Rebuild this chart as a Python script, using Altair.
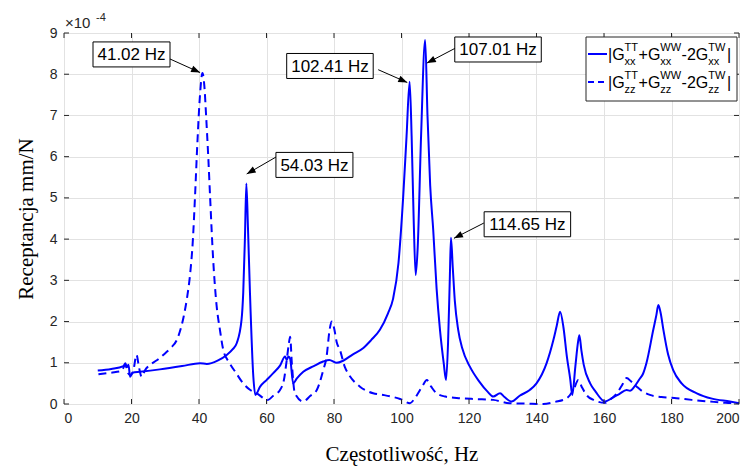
import math
import altair as alt
import pandas as pd

# ---------------- data ----------------
freq_xx = [10.0, 14.0, 17.6, 18.2, 18.6, 19.1, 19.6, 20.3, 22.5, 28.4, 35.0, 40.3, 42.3, 45.5,
           48.2, 50.0, 51.2, 52.6, 53.1, 53.6, 54.03, 54.5, 55.1, 56.1, 56.7, 58.1, 60.0, 62.0,
           64.0, 65.5, 66.0, 66.5, 67.0, 67.9, 69.0, 70.9, 74.0, 76.8, 78.6, 80.8, 82.7, 85.5,
           88.7, 91.0, 93.6, 96.0, 97.5, 99.1, 100.5, 101.5, 102.41, 103.0, 103.6, 104.2, 104.8,
           105.8, 107.01, 107.7, 108.5, 109.4, 110.4, 111.4, 112.5, 113.2, 113.8, 114.3, 114.65,
           115.2, 115.8, 116.8, 118.0, 120.3, 123.0, 125.5, 127.2, 129.2, 130.5, 132.6, 135.0,
           138.0, 140.0, 143.0, 145.0, 146.0, 147.0, 148.0, 149.0, 150.0, 150.6, 151.5, 152.3,
           152.7, 153.3, 154.0, 155.9, 157.5, 160.3, 162.5, 164.5, 166.7, 167.7, 169.0, 170.5,
           171.6, 172.6, 174.6, 175.5, 176.1, 176.8, 177.6, 179.0, 180.5, 183.0, 187.5, 192.0,
           197.3, 200.0]
rec_xx = [0.81, 0.85, 0.92, 0.99, 0.89, 0.95, 0.66, 0.76, 0.78, 0.84, 0.92, 0.99, 0.97, 1.05,
          1.19, 1.33, 1.48, 2.04, 2.69, 4.0, 5.35, 4.3, 2.7, 0.66, 0.22, 0.42, 0.58, 0.75,
          0.93, 1.15, 1.07, 1.15, 1.1, 0.5, 0.62, 0.78, 0.92, 1.03, 1.07, 1.0, 1.05, 1.2,
          1.36, 1.55, 1.8, 2.2, 2.55, 3.42, 5.03, 6.5, 7.82, 6.5, 4.5, 3.13, 3.8,
          6.5, 8.83, 7.0, 5.3, 4.22, 2.8, 1.8, 1.0, 0.58, 1.5, 3.0, 4.03,
          3.3, 2.5, 1.8, 1.35, 0.9, 0.55, 0.3, 0.18, 0.26, 0.17, 0.06, 0.2,
          0.34, 0.5, 0.99, 1.55, 1.9, 2.24, 1.85, 1.15, 0.6, 0.22, 0.9, 1.5,
          1.67, 1.3, 0.95, 0.5, 0.3, 0.06, 0.15, 0.24, 0.34, 0.32, 0.42, 0.6,
          0.74, 1.0, 1.8, 2.15, 2.4, 2.2, 1.8, 1.2, 0.82, 0.5, 0.26, 0.13,
          0.06, 0.02]

freq_zz = [10.2, 14.0, 17.0, 18.2, 18.8, 19.6, 20.5, 21.5, 22.2, 23.0, 24.0, 25.5, 27.5, 29.4,
           31.5, 33.4, 35.4, 36.5, 37.3, 38.2, 38.8, 39.5, 40.3, 41.02, 41.6, 42.1, 42.8, 43.3,
           44.2, 45.2, 46.2, 47.2, 49.0, 51.0, 53.1, 55.0, 57.1, 60.4, 62.0, 64.0, 65.2, 66.0,
           66.6, 67.0, 67.5, 68.4, 70.9, 73.0, 74.9, 76.8, 77.8, 78.7, 79.3, 80.0, 80.8, 81.8,
           83.2, 84.2, 87.7, 91.6, 94.6, 99.6, 102.5, 103.8, 104.9, 106.3, 107.5, 108.8, 110.4,
           113.0, 117.3, 122.0, 127.2, 132.0, 137.0, 142.0, 145.5, 149.0, 151.0, 152.4, 153.5,
           155.0, 156.9, 160.3, 162.0, 163.8, 165.3, 166.7, 168.0, 169.7, 171.5, 173.6, 177.0,
           181.5, 186.0, 191.4, 196.0, 200.0]
rec_zz = [0.72, 0.76, 0.8, 0.95, 0.78, 0.7, 0.8, 1.19, 0.9, 0.66, 0.82, 0.95, 1.06, 1.19,
          1.35, 1.55, 2.1, 2.6, 3.1, 4.0, 5.0, 6.3, 7.5, 8.03, 7.7, 7.0, 5.9, 5.0,
          3.5, 2.4, 1.8, 1.31, 1.0, 0.75, 0.5, 0.35, 0.26, 0.1, 0.2, 0.34, 0.6, 1.07,
          1.45, 1.63, 1.0, 0.26, 0.06, 0.2, 0.34, 0.82, 1.15, 1.8, 2.0, 1.85, 1.5, 1.3,
          0.9, 0.74, 0.42, 0.26, 0.22, 0.12, 0.02, 0.12, 0.26, 0.45, 0.58, 0.42, 0.26,
          0.18, 0.14, 0.12, 0.1, 0.02, 0.01, 0.0, 0.05, 0.14, 0.35, 0.58, 0.4,
          0.2, 0.1, 0.03, 0.12, 0.26, 0.45, 0.63, 0.55, 0.42, 0.3, 0.22, 0.17,
          0.14, 0.1, 0.06, 0.03, 0.02]

peak_freqs = [41.02, 54.03, 102.41, 107.01, 114.65]
peak_vals = [8.03, 5.35, 7.82, 8.83, 4.03]

x_ticks = list(range(0, 201, 20))
y_ticks = list(range(0, 10))

# ---------------- layout (separate from values) ----------------
W, H = 675, 371
X_MAX, Y_MAX = 200, 9
PX = W / X_MAX
PY = H / Y_MAX

box_cx = [20.0, 74.2, 78.8, 128.6, 137.3]
box_cy = [8.48, 5.80, 8.20, 8.60, 4.36]
arrow_start_f = [31.4, 63.0, 93.1, 115.9, 124.4]
arrow_start_y = [8.37, 6.0, 8.11, 8.63, 4.39]
arrow_tip_df = [-0.7, 0.1, -0.7, 0.5, 0.9]
arrow_tip_dy = [0.01, 0.23, -0.02, -0.56, -0.01]

BLUE = "#0000ff"
AX = "#262626"

x_scale = alt.Scale(domain=[0, X_MAX], nice=False, zero=False)
y_scale = alt.Scale(domain=[0, Y_MAX], nice=False, zero=False)

df_xx = pd.DataFrame({"f": freq_xx, "r": rec_xx})
df_zz = pd.DataFrame({"f": freq_zz, "r": rec_zz})

x_axis = alt.Axis(values=x_ticks, grid=True, gridColor="#e2e2e2", ticks=False, domain=False,
                  labelFont="Liberation Sans", labelFontSize=14, labelColor=AX, labelPadding=7,
                  title="Częstotliwość, Hz", titleFont="Liberation Serif", titleFontSize=21,
                  titleFontWeight="normal", titleColor="black", titlePadding=18)
y_axis = alt.Axis(values=y_ticks, grid=True, gridColor="#e2e2e2", ticks=False, domain=False,
                  labelFont="Liberation Sans", labelFontSize=14, labelColor=AX, labelPadding=7,
                  title="Receptancja mm/N", titleFont="Liberation Serif", titleFontSize=21,
                  titleFontWeight="normal", titleColor="black", titlePadding=13)

line_xx = alt.Chart(df_xx).mark_line(color=BLUE, strokeWidth=2, interpolate="monotone").encode(
    x=alt.X("f:Q", scale=x_scale, axis=x_axis),
    y=alt.Y("r:Q", scale=y_scale, axis=y_axis),
)
line_zz = alt.Chart(df_zz).mark_line(color=BLUE, strokeWidth=2, strokeDash=[8, 5],
                                     interpolate="monotone").encode(
    x=alt.X("f:Q", scale=x_scale, axis=x_axis),
    y=alt.Y("r:Q", scale=y_scale, axis=y_axis),
)

# inward ticks on all four sides
xt = pd.DataFrame({"v": x_ticks})
yt = pd.DataFrame({"v": y_ticks})
tick_layers = [
    alt.Chart(xt).mark_rule(color=AX).encode(x=alt.X("v:Q", scale=x_scale, axis=x_axis),
                                             y=alt.value(H), y2=alt.value(H - 5)),
    alt.Chart(xt).mark_rule(color=AX).encode(x=alt.X("v:Q", scale=x_scale, axis=x_axis),
                                             y=alt.value(0), y2=alt.value(5)),
    alt.Chart(yt).mark_rule(color=AX).encode(y=alt.Y("v:Q", scale=y_scale, axis=y_axis),
                                             x=alt.value(0), x2=alt.value(5)),
    alt.Chart(yt).mark_rule(color=AX).encode(y=alt.Y("v:Q", scale=y_scale, axis=y_axis),
                                             x=alt.value(W - 5), x2=alt.value(W)),
]

# annotations
labels = [f"{f:.2f} Hz" for f in peak_freqs]
rows = []
for i, lab in enumerate(labels):
    wpx = 9.5 * len(lab) + 1
    tf = peak_freqs[i] + arrow_tip_df[i]
    ty = peak_vals[i] + arrow_tip_dy[i]
    sf, sy = arrow_start_f[i], arrow_start_y[i]
    ang = math.degrees(math.atan2(-(ty - sy) * PY, (tf - sf) * PX)) % 360
    rows.append({
        "label": lab,
        "cx": box_cx[i], "cy": box_cy[i],
        "x1": box_cx[i] - wpx / 2 / PX, "x2": box_cx[i] + wpx / 2 / PX,
        "y1": box_cy[i] - 12.5 / PY, "y2": box_cy[i] + 12.5 / PY,
        "sf": sf, "sy": sy, "tf": tf, "ty": ty, "ang": ang,
    })
ann = pd.DataFrame(rows)

arrows = alt.Chart(ann).mark_rule(color="black", strokeWidth=1).encode(
    x=alt.X("sf:Q", scale=x_scale, axis=x_axis), y=alt.Y("sy:Q", scale=y_scale, axis=y_axis),
    x2="tf:Q", y2="ty:Q",
)
heads = alt.Chart(ann).mark_point(shape="M0,0L-2,-0.75L-2,0.75Z", filled=True, color="black",
                                  size=81, opacity=1, strokeWidth=0).encode(
    x=alt.X("tf:Q", scale=x_scale, axis=x_axis), y=alt.Y("ty:Q", scale=y_scale, axis=y_axis),
    angle=alt.Angle("ang:Q", scale=None),
)
boxes = alt.Chart(ann).mark_rect(fill="white", stroke="black", strokeWidth=1).encode(
    x=alt.X("x1:Q", scale=x_scale, axis=x_axis), x2="x2:Q",
    y=alt.Y("y1:Q", scale=y_scale, axis=y_axis), y2="y2:Q",
)
box_text = alt.Chart(ann).mark_text(font="Liberation Sans", fontSize=17, color="black",
                                    align="center", baseline="middle", dy=1).encode(
    x=alt.X("cx:Q", scale=x_scale, axis=x_axis), y=alt.Y("cy:Q", scale=y_scale, axis=y_axis),
    text="label:N",
)

# exponent label
one = pd.DataFrame({"a": [0]})
def ptext(txt, x, y, size, color=AX):
    return alt.Chart(one).mark_text(text=txt, font="Liberation Sans", fontSize=size, color=color,
                                    align="left", baseline="alphabetic").encode(
        x=alt.value(x), y=alt.value(y))

expo = [ptext("×10", 1, -5, 15), ptext("-4", 32, -12, 11)]

# legend
LX, LY = 522, 4
legend_layers = [
    alt.Chart(one).mark_rect(fill="white", stroke=AX, strokeWidth=1).encode(
        x=alt.value(LX), x2=alt.value(LX + 151), y=alt.value(LY), y2=alt.value(LY + 64)),
    alt.Chart(one).mark_rule(color=BLUE, strokeWidth=2).encode(
        x=alt.value(LX + 2), x2=alt.value(LX + 21), y=alt.value(LY + 17)),
    alt.Chart(one).mark_rule(color=BLUE, strokeWidth=2, strokeDash=[6, 4]).encode(
        x=alt.value(LX + 2), x2=alt.value(LX + 21), y=alt.value(LY + 45)),
]
# Arial/Liberation Sans advance widths (em)
adv = {"G": 0.778, "|": 0.26, "+": 0.584, "-": 0.333, "2": 0.556, "T": 0.611, "W": 0.944,
       "x": 0.5, "z": 0.5}
def tw(s, size):
    return sum(adv[c] for c in s) * size

MAIN, SCR = 16, 11
for row, sub in enumerate(["xx", "zz"]):
    base = LY + 23 + 28 * row
    xpos = LX + 22
    groups = [("|G", "TT"), ("+G", "WW"), ("-2G", "TW")]
    for main_t, sup_t in groups:
        legend_layers.append(ptext(main_t, xpos, base, MAIN, color="black"))
        xpos += tw(main_t, MAIN)
        legend_layers.append(ptext(sup_t, xpos, base - 9, SCR, color="black"))
        legend_layers.append(ptext(sub, xpos, base + 5, SCR, color="black"))
        xpos += max(tw(sup_t, SCR), tw(sub, SCR)) + 0.5
    legend_layers.append(ptext("|", xpos + 1, base, MAIN, color="black"))

chart = alt.layer(
    line_xx, line_zz, *tick_layers, arrows, heads, boxes, box_text, *expo, *legend_layers
).properties(
    width=W, height=H,
    autosize=alt.AutoSizeParams(type="none"),
    padding={"left": 64, "top": 33, "right": 15, "bottom": 67},
).configure_view(stroke=AX, strokeWidth=1).configure(background="white")

chart.save("out.html", embed_options={"renderer": "svg", "actions": False})
